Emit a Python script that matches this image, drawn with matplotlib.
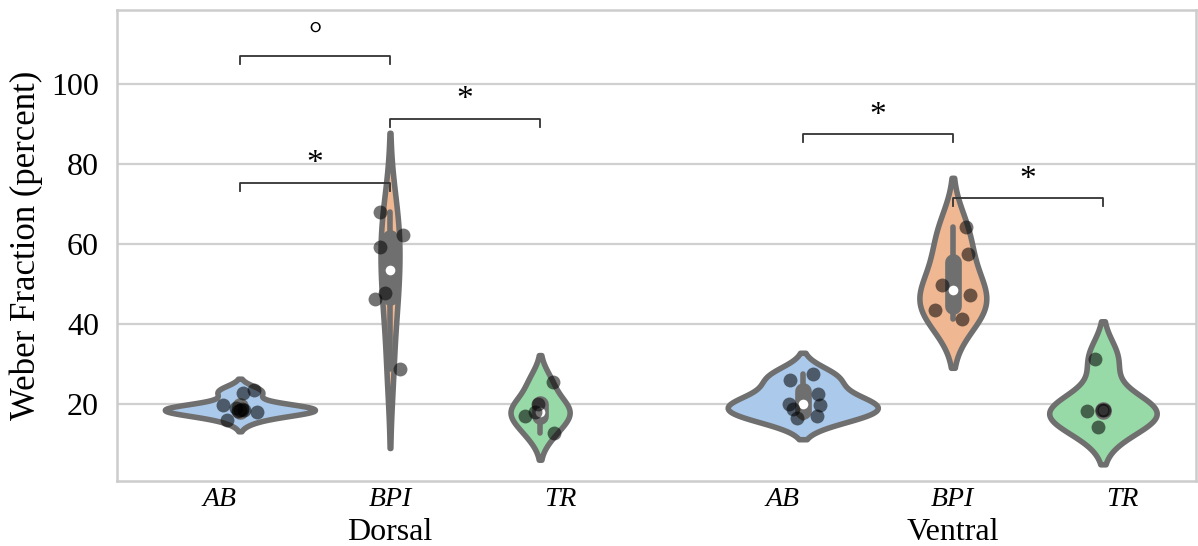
import colorsys

import numpy as np
import matplotlib
matplotlib.use("Agg")
import matplotlib.pyplot as plt

plt.rcParams['font.family'] = ['Liberation Serif', 'DejaVu Serif']

sides = ['Dorsal', 'Ventral']
muscles = ['AB', 'BPI', 'TR']

# Weber fraction (percent), one value per participant
dorsal_ab = [23.5, 22.7, 19.7, 18.9, 18.7, 18.5, 18.4, 18.2, 18.0, 16.0]
dorsal_bpi = [68.0, 62.3, 59.3, 47.8, 46.3, 28.8]
dorsal_tr = [25.5, 20.0, 18.0, 17.0, 12.8]
ventral_ab = [27.5, 26.0, 22.5, 20.0, 19.8, 18.8, 17.0, 16.5]
ventral_bpi = [64.3, 57.5, 49.8, 47.3, 43.5, 41.3]
ventral_tr = [31.3, 18.5, 18.5, 18.3, 14.3]

groups = [[dorsal_ab, dorsal_bpi, dorsal_tr],
          [ventral_ab, ventral_bpi, ventral_tr]]

# pairwise comparisons: (side, muscle a, muscle b, bracket height, mark)
comparisons = [
    (0, 0, 1, 75.3, '*'),
    (0, 0, 1, 107.0, '°'),
    (0, 1, 2, 91.3, '*'),
    (1, 0, 1, 87.4, '*'),
    (1, 1, 2, 71.4, '*'),
]

# horizontal scatter of the strip points, in pixels
jitter_px = [
    [[14, 3, -17, -4, 2, 0, 4, -2, 17, -13], [-10, 13, -10, -5, -15, 10], [13, -2, -5, -15, 14]],
    [[10, -13, 15, -14, 17, -10, 14, -6], [13, 15, -11, 17, -18, 9], [-8, -1, 1, -16, -5]],
]
px_per_unit = 563.0

pastel = ['#a1c9f4', '#ffb482', '#8de5a1']


def desaturate(c, prop):
    h, l, s = colorsys.rgb_to_hls(*matplotlib.colors.to_rgb(c))
    return colorsys.hls_to_rgb(h, l, s * prop)


colors = [desaturate(c, 0.75) for c in pastel]
lum = min(colorsys.rgb_to_hls(*c)[1] for c in colors) * 0.6
gray = (lum, lum, lum)


def kde(values, cut=2, gridsize=100):
    v = np.asarray(values, float)
    bw = v.std(ddof=1) * len(v) ** (-1 / 5)
    support = np.linspace(v.min() - cut * bw, v.max() + cut * bw, gridsize)
    z = (support[:, None] - v[None, :]) / bw
    dens = np.exp(-0.5 * z ** 2).sum(axis=1) / (len(v) * bw * np.sqrt(2 * np.pi))
    return support, dens


fig = plt.figure(figsize=(11.98, 5.46), dpi=100)
ax = fig.add_axes([117 / 1198, 65 / 546, 1079 / 1198, 471 / 546])

width = 0.8
offsets = np.array([-1, 0, 1]) * width / 3
dwidth = width / 6
lw = 4.0

for i, row in enumerate(groups):
    curves = [kde(v) for v in row]
    # widths scaled within each side so its densest violin is full width
    side_max = max(d.max() for _, d in curves)
    for j, vals in enumerate(row):
        c = i + offsets[j]
        support, dens = curves[j]
        half = dens / side_max * dwidth
        ax.fill_betweenx(support, c - half, c + half, facecolor=colors[j],
                         edgecolor=gray, linewidth=lw, joinstyle='round', zorder=2)

        v = np.asarray(vals, float)
        q25, q50, q75 = np.percentile(v, [25, 50, 75])
        whis = 1.5 * (q75 - q25)
        lo = v[v >= q25 - whis].min()
        hi = v[v <= q75 + whis].max()
        ax.plot([c, c], [lo, hi], lw=lw, color=gray, solid_capstyle='round', zorder=3)
        ax.plot([c, c], [q25, q75], lw=lw * 3, color=gray, solid_capstyle='round', zorder=3)
        ax.scatter(c, q50, s=(lw * 2) ** 2, color='white', edgecolor=gray,
                   linewidth=1, zorder=4)

        jit = np.array(jitter_px[i][j]) / px_per_unit
        ax.scatter(c + jit, v, s=100, color='black', alpha=0.55, linewidth=0, zorder=5)

for side, a, b, y, mark in comparisons:
    x1 = side + offsets[a]
    x2 = side + offsets[b]
    ax.plot([x1, x1, x2, x2], [y - 2, y, y, y - 2], color='#333333', lw=1.3, zorder=6)
    if mark == '*':
        ax.text((x1 + x2) / 2, y + 2.6, mark, ha='center', va='baseline', fontsize=24)
    else:
        ax.text((x1 + x2) / 2, y + 2.9, mark, ha='center', va='baseline', fontsize=24)

# muscle names under each violin group, side names below them
label_pos = [i + k * 0.302 for i in range(len(sides)) for k in (-1, 0, 1)]
ax.xaxis.remove_overlapping_locs = False
ax.set_xticks(label_pos)
ax.set_xticklabels(muscles * len(sides), fontstyle='italic', fontsize=20)
ax.set_xticks(range(len(sides)), minor=True)
ax.set_xticklabels(sides, minor=True, fontsize=23)
ax.tick_params(axis='x', which='major', length=0, pad=4)
ax.tick_params(axis='x', which='minor', length=0, pad=27)

ax.set_xlim(-0.485, 1.432)
ax.set_ylim(0.75, 118.5)
ax.set_yticks([20, 40, 60, 80, 100])
ax.tick_params(axis='y', length=0, pad=13, labelsize=23)
ax.set_ylabel('Weber Fraction (percent)', fontsize=25, labelpad=6)

ax.set_axisbelow(True)
ax.yaxis.grid(True, color='#d0d0d0', linewidth=1.6)
for s in ax.spines.values():
    s.set_color('#cccccc')
    s.set_linewidth(1.8)

fig.savefig('out.png', dpi=100)
